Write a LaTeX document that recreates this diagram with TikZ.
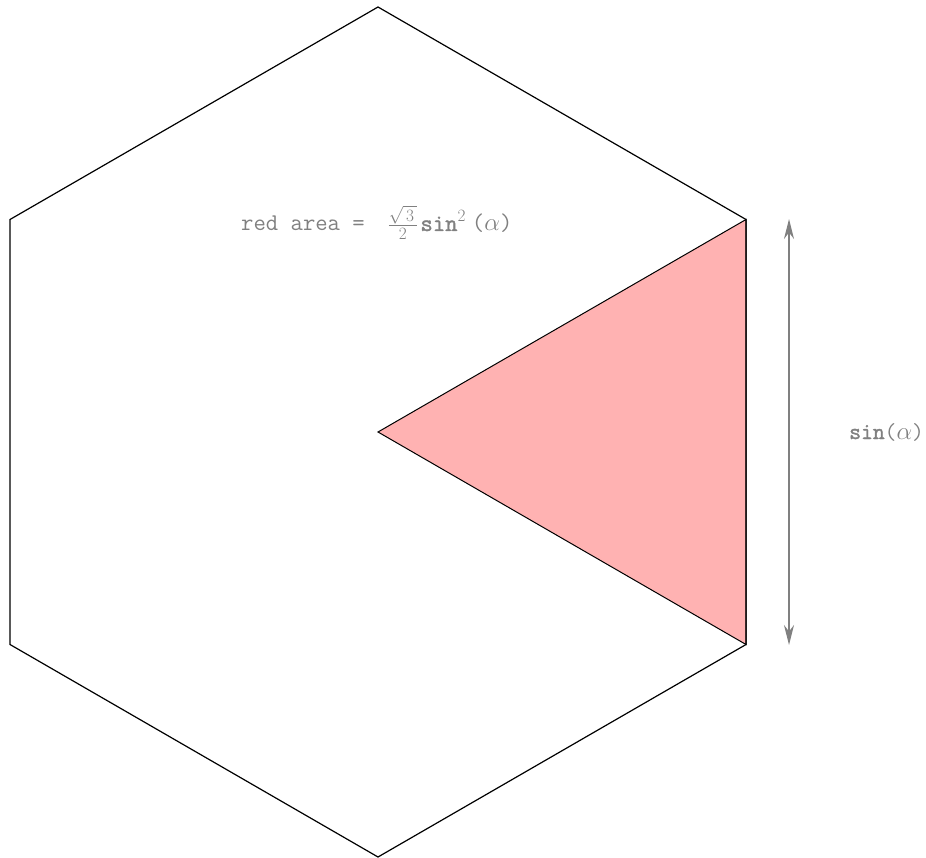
\documentclass[tikz,border=0pt]{standalone}
\usepackage{fontspec}
\setmonofont{Latin Modern Mono}
\newfontfamily\ttbold{Latin Modern Mono}[FakeBold=1.6]
\usetikzlibrary{arrows.meta}
\begin{document}
\begin{tikzpicture}[x=1pt,y=-1pt,
  hexline/.style={draw=black,line width=1.2pt,line join=miter},
  redfill/.style={fill=red!30,draw=black,line width=1pt},
  dimarrow/.style={draw=gray,line width=1.6pt,{Stealth[length=20pt,width=10pt]}-{Stealth[length=20pt,width=10pt]}},
  lbl/.style={text=gray,font=\fontsize{24}{27}\selectfont\ttfamily,inner sep=0pt,anchor=base west}]
\useasboundingbox (0,0) rectangle (926,858);
\coordinate (c) at (378,432);
\coordinate (v1) at (378,7);
\coordinate (v2) at (746,219.5);
\coordinate (v3) at (746,644.5);
\coordinate (v4) at (378,857);
\coordinate (v5) at (10,644.5);
\coordinate (v6) at (10,219.5);
\draw[redfill] (c) -- (v2) -- (v3) -- cycle;
\draw[hexline] (v1) -- (v2) -- (v3) -- (v4) -- (v5) -- (v6) -- cycle;
\coordinate (at) at (789,219);
\coordinate (ab) at (789,645);
\draw[dimarrow] (ab) -- (at);
\node[lbl] (area) at (241,231) {red area =\hspace{0.95em}$\frac{\sqrt{\,3\,}}{\,2\,}$\hspace{0.1em}{\ttbold sin}$^2$\hspace{0.25em}($\alpha$)};
\node[lbl,font=\fontsize{23}{26}\selectfont\ttfamily] (sin) at (849,439) {{\ttbold sin}($\alpha$)};
\end{tikzpicture}
\end{document}
